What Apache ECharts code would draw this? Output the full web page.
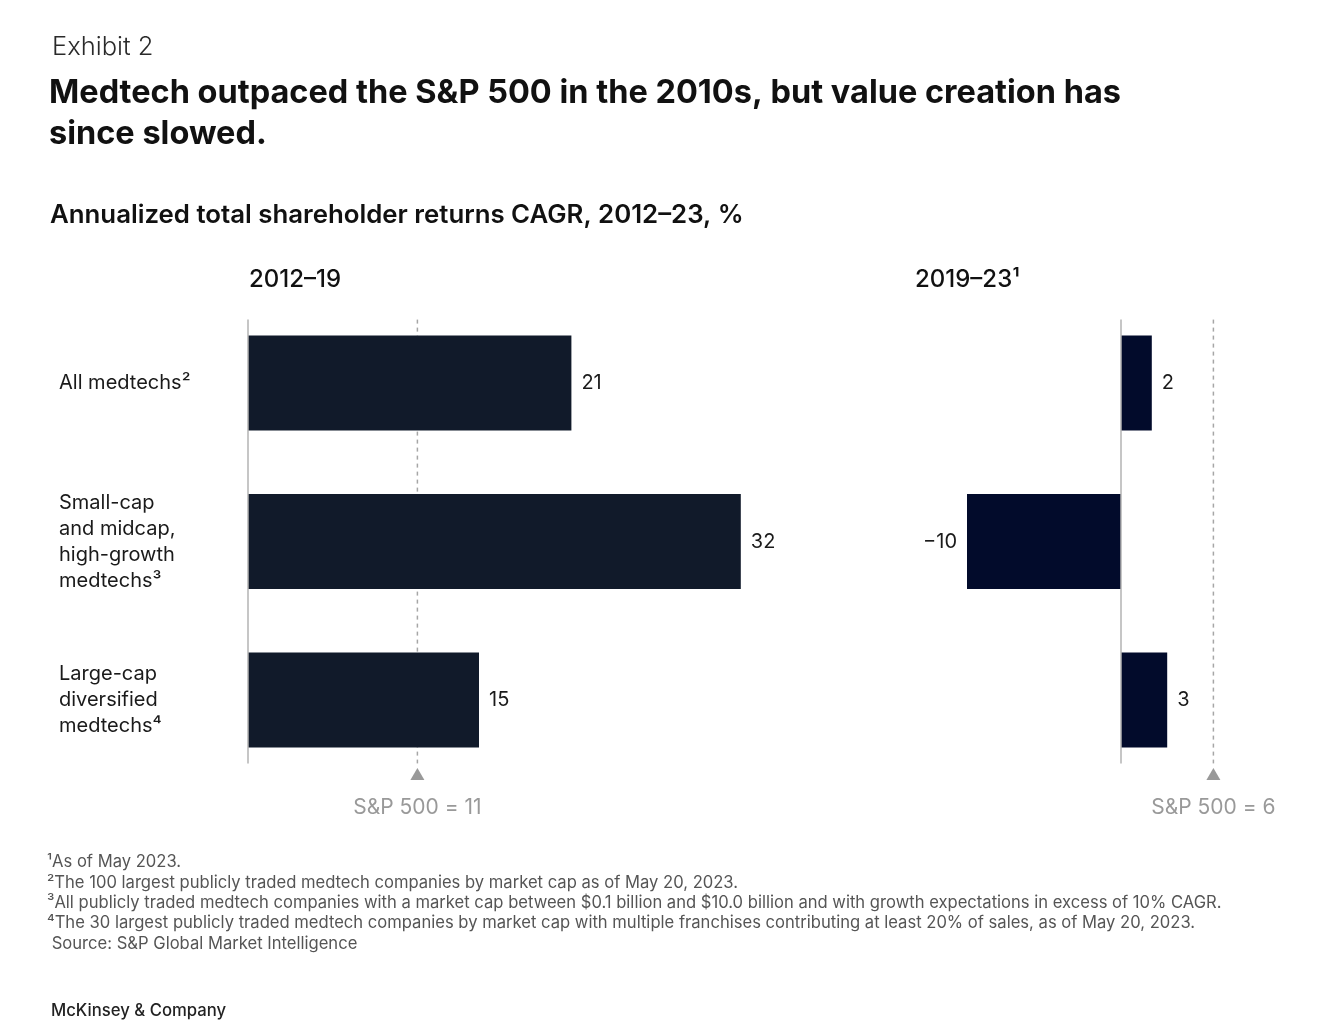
<!DOCTYPE html>
<html>
<head>
<meta charset="utf-8">
<style>
  html, body { margin: 0; padding: 0; background: #ffffff; }
  #chart { width: 1340px; height: 1033px; }
</style>
<script src="https://cdn.jsdelivr.net/npm/echarts@6/dist/echarts.min.js"></script>
</head>
<body>
<div id="chart"></div>
<script>
// ---- data ----
const categories = ['All medtechs²', 'Small-cap\nand midcap,\nhigh-growth\nmedtechs³', 'Large-cap\ndiversified\nmedtechs⁴'];
const values2012to19 = [21, 32, 15];
const values2019to23 = [2, -10, 3];
const benchmark2012to19 = 11;
const benchmark2019to23 = 6;
const panelTitles = ['2012–19', '2019–23¹'];
const footnotes = [
  '¹As of May 2023.',
  '²The 100 largest publicly traded medtech companies by market cap as of May 20, 2023.',
  '³All publicly traded medtech companies with a market cap between $0.1 billion and $10.0 billion and with growth expectations in excess of 10% CAGR.',
  '⁴The 30 largest publicly traded medtech companies by market cap with multiple franchises contributing at least 20% of sales, as of May 20, 2023.',
  ' Source: S&P Global Market Intelligence'
];

const BODY = 'Inter, "Liberation Sans", Arial, sans-serif';
const HEAD = 'Inter, "Liberation Sans", sans-serif';
const PX = 15.4; // pixels per percentage point

const chart = echarts.init(document.getElementById('chart'), null, { renderer: 'canvas' });

const gridTop = 303.75, gridHeight = 475.5;
const leftMin = 0, leftMax = 33;
const rightMin = -10, rightMax = 7;

function fmtNum(v) { return v < 0 ? '−' + Math.abs(v) : String(v); }

function barSeries(idx, vals, color) {
  return {
    type: 'bar', xAxisIndex: idx, yAxisIndex: idx * 2,
    barWidth: 95, z: 2,
    data: vals.map(v => ({
      value: v,
      label: { position: v < 0 ? 'left' : 'right' }
    })),
    itemStyle: { color: color },
    label: {
      show: true, distance: 10, fontSize: 20, fontFamily: BODY, color: '#1a1a1a',
      formatter: p => fmtNum(p.value)
    }
  };
}
function guideLine(idx, x, dashed) {
  return {
    type: 'line', xAxisIndex: idx, yAxisIndex: idx * 2 + 1,
    symbol: 'none', silent: true, z: dashed ? 1 : 3,
    data: [[x, -0.4], [x, 2.4]],
    lineStyle: dashed ? { color: '#a6a6a6', width: 1.5, type: [4, 4] } : { color: '#b3b3b3', width: 1.5 }
  };
}
function marker(idx, x) {
  return {
    type: 'scatter', xAxisIndex: idx, yAxisIndex: idx * 2 + 1,
    symbol: 'triangle', symbolSize: [14, 12], silent: true,
    itemStyle: { color: '#7f7f7f' },
    data: [[x, 2.467]],
    label: {
      show: true, position: 'bottom', distance: 17, fontSize: 21, fontFamily: BODY, color: '#808080',
      formatter: () => 'S&P 500 = ' + fmtNum(x)
    }
  };
}

const option = {
  backgroundColor: '#ffffff',
  animation: false,
  grid: [
    { left: 248, top: gridTop, width: (leftMax - leftMin) * PX, height: gridHeight },
    { left: 1121 - (0 - rightMin) * PX, top: gridTop, width: (rightMax - rightMin) * PX, height: gridHeight }
  ],
  xAxis: [
    { type: 'value', gridIndex: 0, min: leftMin, max: leftMax, show: false },
    { type: 'value', gridIndex: 1, min: rightMin, max: rightMax, show: false }
  ],
  yAxis: [
    { type: 'category', gridIndex: 0, data: categories, inverse: true,
      axisLine: { show: false }, axisTick: { show: false },
      axisLabel: { show: true, align: 'left', margin: 189, fontSize: 20, lineHeight: 26, fontFamily: BODY, color: '#1a1a1a', padding: [11, 0, 0, 0] } },
    { type: 'value', gridIndex: 0, min: -0.5, max: 2.5, inverse: true, show: false },
    { type: 'category', gridIndex: 1, data: categories, inverse: true,
      axisLine: { show: false }, axisTick: { show: false }, axisLabel: { show: false } },
    { type: 'value', gridIndex: 1, min: -0.5, max: 2.5, inverse: true, show: false }
  ],
  series: [
    barSeries(0, values2012to19, '#111a2a'),
    guideLine(0, 0, false),
    guideLine(0, benchmark2012to19, true),
    marker(0, benchmark2012to19),
    barSeries(1, values2019to23, '#020b2b'),
    guideLine(1, 0, false),
    guideLine(1, benchmark2019to23, true),
    marker(1, benchmark2019to23)
  ],
  graphic: [
    { type: 'text', left: 52, top: 34, style: { text: 'Exhibit 2', font: '300 25.5px ' + HEAD, fill: '#2a2a2a' } },
    { type: 'text', left: 49, top: 73, style: { text: 'Medtech outpaced the S&P 500 in the 2010s, but value creation has\nsince slowed.', font: 'bold 32.5px ' + HEAD, lineHeight: 41, fill: '#111111' } },
    { type: 'text', left: 50, top: 202, style: { text: 'Annualized total shareholder returns CAGR, 2012–23, %', font: '600 25.8px ' + HEAD, fill: '#111111' } },
    { type: 'text', left: 249, top: 268, style: { text: panelTitles[0], font: '500 24px ' + HEAD, fill: '#111111' } },
    { type: 'text', left: 915, top: 268, style: { text: panelTitles[1], font: '500 24px ' + HEAD, fill: '#111111' } },
    { type: 'text', left: 47, top: 852, style: { text: footnotes.join('\n'), font: '16.6px ' + BODY, lineHeight: 20.4, fill: '#555555' } },
    { type: 'text', left: 51, top: 1002, style: { text: 'McKinsey & Company', font: '500 16.7px ' + HEAD, fill: '#222222' } }
  ]
};
chart.setOption(option);
</script>
</body>
</html>
